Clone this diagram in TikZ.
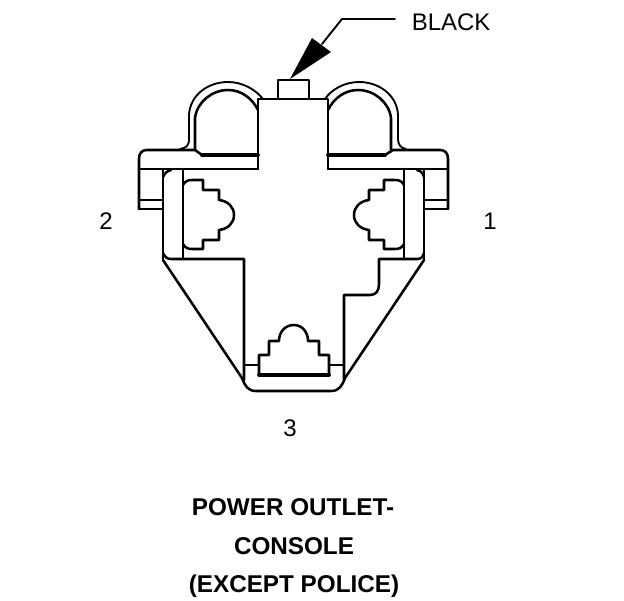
\documentclass[tikz,border=0pt]{standalone}
\usepackage{fontspec}
\setmainfont{Liberation Sans}
\tikzset{
  px/.style={x=0.75pt,y=-0.75pt},
  ln/.style={line width=1.9pt,line cap=round,line join=round},
  heavy/.style={line width=2.8pt,line cap=round,line join=round},
  fine/.style={line width=1.4pt,line cap=round,line join=round},
  lab/.style={inner sep=0pt,font=\fontsize{18pt}{20pt}\selectfont},
  captxt/.style={inner sep=0pt,anchor=base,font=\fontsize{18.2pt}{22pt}\selectfont\bfseries}
}
\begin{document}
\begin{tikzpicture}[px]
\useasboundingbox (0,0) rectangle (624,600);
\fill[white] (0,0) rectangle (624,600);
% outer clip arcs
\draw[fine] (180,149) .. controls (186,148) and (189,146) .. (189,139) -- (189,115)
  .. controls (190,95) and (208,82) .. (228,82) .. controls (243,82) and (256,90) .. (263,99);
\draw[fine] (406,149) .. controls (401,148) and (398,145) .. (398,139) -- (398,115)
  .. controls (397,95) and (379,82) .. (359,82) .. controls (344,82) and (331,90) .. (325,99);
% inner clip arcs
\draw[ln] (195,150) -- (195,118) .. controls (197,102) and (212,90) .. (228,90) .. controls (241,90) and (252,98) .. (258,110);
\draw[ln] (391,150) -- (391,118) .. controls (389,102) and (374,90) .. (358,90) .. controls (345,90) and (334,98) .. (328,110);
% central body and top stud
\draw[ln] (278,99) -- (278,80) -- (309,80) -- (309,99);
\draw[ln] (258,169) -- (258,99) -- (328,99) -- (328,169);
\draw[ln] (139,169) -- (258,169) (328,169) -- (448,169);
% flange
\draw[ln] (139,209) -- (139,159) .. controls (139,153) and (142,150) .. (147,150) -- (195,150) -- (202,155);
\draw[heavy] (202,155) -- (258,155);
\draw[ln] (163,209) -- (139,209) (139,200) -- (163,200);
\draw[ln] (448,209) -- (448,159) .. controls (448,153) and (445,150) .. (440,150) -- (393,150) -- (385,155);
\draw[heavy] (385,155) -- (328,155);
\draw[ln] (424,209) -- (448,209) (448,200) -- (424,200);
% left side walls
\draw[ln] (163,169) -- (163,260);
\draw[ln] (183,169) -- (183,259);
\draw[ln] (163,177) .. controls (165,173) and (167,171) .. (171,170);
\draw[ln] (163,253) .. controls (165,257) and (167,259) .. (171,259) -- (244,259) -- (244,380);
% right side walls
\draw[ln] (424,169) -- (424,260);
\draw[ln] (404,169) -- (404,259);
\draw[ln] (424,177) .. controls (423,173) and (421,171) .. (417,170);
\draw[ln] (424,253) .. controls (423,257) and (421,259) .. (417,259) -- (379,259) -- (379,284)
  .. controls (379,291) and (376,295) .. (370,295) -- (344,295) -- (344,380);
% lower body
\draw[ln] (163,260) -- (242,378) .. controls (245,386) and (248,391) .. (256,391) -- (331,391)
  .. controls (339,391) and (342,386) .. (345,378) -- (424,260);
% left connector
\draw[ln] (183,185) .. controls (185,181) and (188,180) .. (192,180) -- (203,180) -- (203,190) -- (219,190) -- (219,200)
  .. controls (228,201) and (234,207) .. (234,215) .. controls (234,223) and (228,229) .. (219,230)
  -- (219,240) -- (203,240) -- (203,249) -- (192,249) .. controls (188,249) and (185,248) .. (183,244);
% right connector
\draw[ln] (404,185) .. controls (402,181) and (399,180) .. (395,180) -- (384,180) -- (384,190) -- (369,190) -- (369,200)
  .. controls (360,201) and (354,207) .. (354,215) .. controls (354,223) and (360,229) .. (369,230)
  -- (369,240) -- (384,240) -- (384,249) -- (395,249) .. controls (399,249) and (402,248) .. (404,244);
% bottom connector
\draw[ln] (244,365) -- (259,365) (329,365) -- (344,365);
\draw[ln] (259,375) -- (259,355) -- (269,355) -- (269,341) -- (279,341)
  .. controls (279,332) and (285,325) .. (294,325) .. controls (302,325) and (308,332) .. (308,341)
  -- (319,341) -- (319,355) -- (329,355) -- (329,375);
\draw[heavy] (259,375) -- (329,375);
% leader and arrowhead
\coordinate (tip) at (290,79);
\coordinate (elbow) at (342,19);
\coordinate (lead) at (395,19);
\draw[fine] (lead) -- (elbow) -- (322,44);
\fill[black] (tip) -- (312,38) -- (331,52) -- cycle;
% labels
\node[lab,anchor=base west] (black) at (411.5,30) {BLACK};
\node[lab] (two) at (106,221.5) {2};
\node[lab] (one) at (490,221.5) {1};
\node[lab] (three) at (290,428.5) {3};
\node[captxt] (c1) at (293,515.5) {POWER OUTLET-};
\node[captxt] (c2) at (294,554) {CONSOLE};
\node[captxt] (c3) at (294,592) {(EXCEPT POLICE)};
\end{tikzpicture}
\end{document}
